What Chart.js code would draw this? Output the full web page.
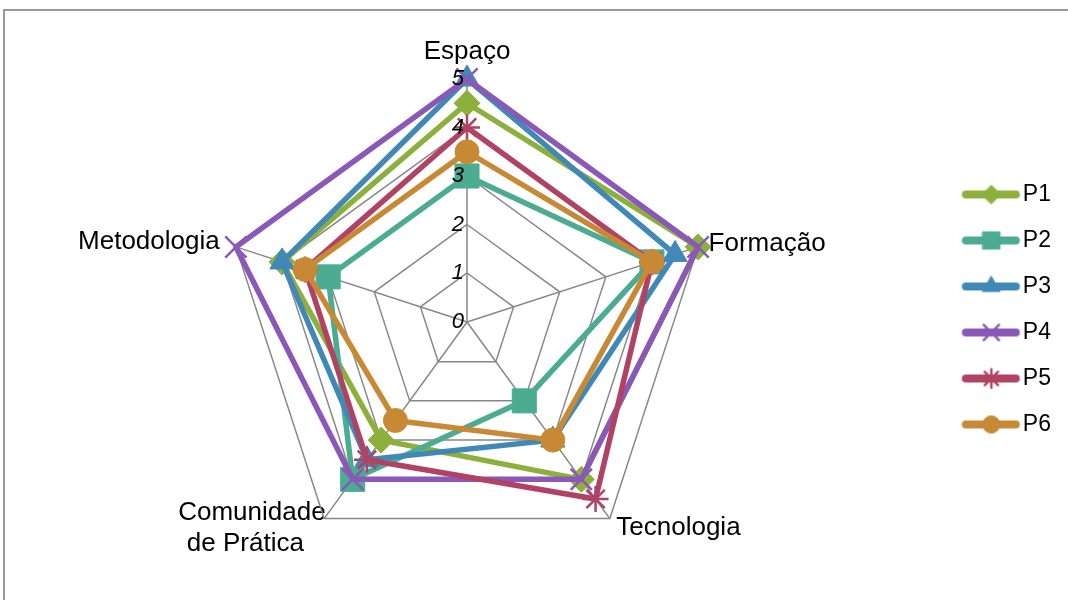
<!DOCTYPE html>
<html>
<head>
<meta charset="utf-8">
<script src="https://cdn.jsdelivr.net/npm/chart.js@4.4.1/dist/chart.umd.min.js"></script>
<style>
  html, body { margin: 0; padding: 0; background: #fff; }
  #wrap { position: relative; width: 1068px; height: 600px; overflow: hidden; }
  #frame { position: absolute; left: 3px; top: 9px; width: 1200px; height: 800px;
           border-left: 2px solid #9a9a9a; border-top: 2px solid #9a9a9a; }
  #radarChart { position: absolute; left: 0; top: 0; }
</style>
</head>
<body>
<div id="wrap">
  <div id="frame"></div>
  <canvas id="radarChart" width="1068" height="600"></canvas>
</div>
<script>
// Axes (clockwise from the top)
const categories = ['Espaço', 'Formação', 'Tecnologia', ['Comunidade  ', 'de Prática     '], 'Metodologia'];
const seriesNames = ['P1', 'P2', 'P3', 'P4', 'P5', 'P6'];

// Scores per axis
const p1 = [4.5, 5, 4, 3, 4];
const p2 = [3, 4, 2, 4, 3];
const p3 = [5, 4.5, 3, 3.5, 4];
const p4 = [5, 5, 4, 4, 5];
const p5 = [4, 4, 4.5, 3.5, 3.5];
const p6 = [3.5, 4, 3, 2.5, 3.5];
const seriesValues = [p1, p2, p3, p4, p5, p6];

const scaleMin = 0;
const scaleMax = 5;
const scaleStep = 1;

// look of each series (Excel-like markers)
const seriesStyles = [
    { color: '#8DB03C', marker: 'rectRot',  radius: 13, border: 1 },
    { color: '#4BAC91', marker: 'rect',     radius: 17, border: 1 },
    { color: '#4088B6', marker: 'triangle', radius: 14, border: 1 },
    { color: '#8B58B7', marker: 'crossRot', radius: 15, border: 2.5 },
    { color: '#B04363', marker: 'star',     radius: 13, border: 2.5 },
    { color: '#C88934', marker: 'circle',   radius: 12, border: 1 }
];

// per axis label placement (padding along the axis, line height)
const labelPadding = [2, -2, -2, -40, 4];
const labelLineHeight = ['24px', '0', '0', '31.5px', '0'];

const fontFamily = "'Liberation Sans', Arial, sans-serif";

// legend icon: a short line with the marker in the middle
function legendIcon(style) {
    const c = document.createElement('canvas');
    c.width = 80;
    c.height = 30;
    const g = c.getContext('2d');
    g.strokeStyle = style.color;
    g.fillStyle = style.color;
    g.lineWidth = 8;
    g.lineCap = 'round';
    g.beginPath();
    g.moveTo(21.5, 15);
    g.lineTo(71.5, 15);
    g.stroke();
    g.lineWidth = style.border;
    Chart.helpers.drawPoint(g, {
        pointStyle: style.marker,
        radius: style.radius * 0.72,
        borderWidth: style.border,
        rotation: 0
    }, 47, 15);
    return c;
}

const datasets = seriesNames.map((name, i) => {
    const s = seriesStyles[i];
    return {
        label: name,
        data: seriesValues[i],
        borderColor: s.color,
        backgroundColor: s.color,
        borderWidth: 5.5,
        fill: false,
        pointStyle: s.marker,
        pointRadius: s.radius,
        pointBorderWidth: s.border,
        pointBorderColor: s.color,
        pointBackgroundColor: s.color,
        order: seriesNames.length - i   // later series drawn on top
    };
});

const ctx = document.getElementById('radarChart').getContext('2d');
const radarChart = new Chart(ctx, {
    type: 'radar',
    data: {
        labels: categories,
        datasets: datasets
    },
    options: {
        responsive: false,
        animation: false,
        layout: {
            padding: { left: 0, right: 7, top: 27, bottom: 8 }
        },
        elements: {
            line: { tension: 0, borderJoinStyle: 'round' }
        },
        plugins: {
            tooltip: { enabled: false },
            legend: {
                position: 'right',
                labels: {
                    usePointStyle: true,
                    pointStyleWidth: 54,
                    padding: 23,
                    color: '#000',
                    font: { family: fontFamily, size: 23 },
                    generateLabels: function (chart) {
                        return chart.data.datasets.map((ds, i) => ({
                            text: ds.label,
                            fillStyle: ds.borderColor,
                            strokeStyle: ds.borderColor,
                            lineWidth: 0,
                            pointStyle: legendIcon(seriesStyles[i]),
                            datasetIndex: i,
                            hidden: false
                        }));
                    }
                }
            }
        },
        scales: {
            r: {
                min: scaleMin - 0.01,   // keeps the centre "0" label visible
                max: scaleMax,
                ticks: {
                    stepSize: scaleStep,
                    showLabelBackdrop: false,
                    z: 1,
                    color: '#000',
                    font: { family: fontFamily, size: 22, style: 'italic' },
                    callback: function (v) {
                        return (v <= 0 ? '0' : String(v)) + '   ';
                    }
                },
                grid: { color: '#878787', lineWidth: 1.5 },
                angleLines: { color: '#878787', lineWidth: 1.5 },
                pointLabels: {
                    color: '#000',
                    padding: (c) => labelPadding[c.index],
                    font: (c) => ({ family: fontFamily, size: 26, lineHeight: labelLineHeight[c.index] })
                }
            }
        }
    }
});
</script>
</body>
</html>
